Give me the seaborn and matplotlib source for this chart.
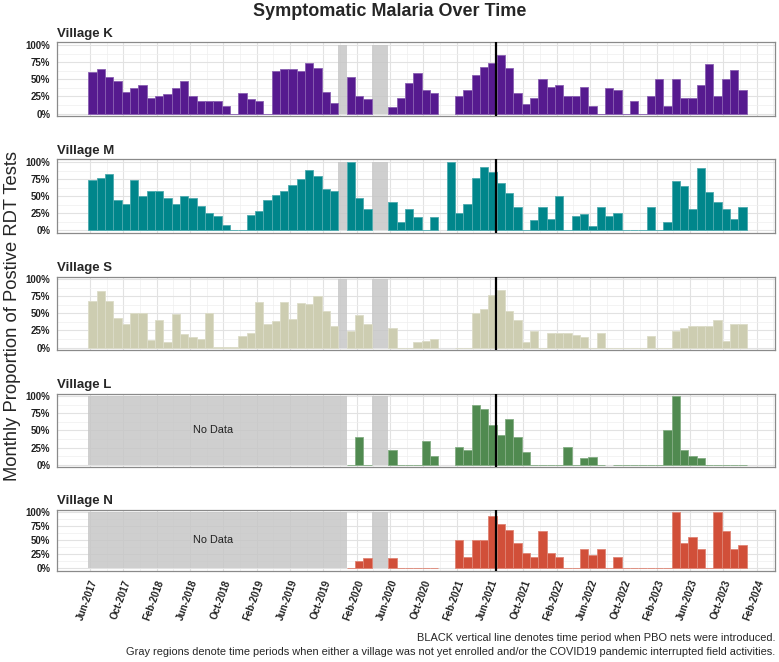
import numpy as np
import pandas as pd
import seaborn as sns
import matplotlib.pyplot as plt
import matplotlib.colors as mcolors
from matplotlib.patches import Rectangle
from matplotlib.ticker import FixedLocator, MultipleLocator

nan = np.nan

# meses con datos (Jun-2017 .. Dic-2023)
meses = pd.date_range('2017-06-01', '2023-12-01', freq='MS')

# proporcion mensual de RDT positivos (%), NaN = sin dato
village_k = [60, 65, 53, 48, 31, 37, 41, 23, 26, 28,
             38, 48, 26, 19, 18, 19, 11, 0, 30, 21,
             18, 0, 62, 65, 65, 62, 74, 67, 32, 16,
             nan, 54, 26, 21, nan, nan, 9, 22, 45, 59,
             34, 30, nan, nan, 26, 34, 56, 68, 74, 85,
             66, 30, 14, 23, 50, 39, 41, 26, 26, 39,
             11, 0, 38, 34, 0, 18, 0, 26, 50, 11,
             50, 23, 23, 41, 72, 26, 50, 63, 34]
village_m = [73, 77, 83, 45, 38, 74, 51, 57, 57, 47,
             39, 51, 48, 36, 25, 21, 8, 1, 1, 22,
             29, 45, 52, 58, 67, 75, 88, 79, 61, 57,
             nan, 100, 48, 31, nan, nan, 41, 12, 31, 19,
             0, 19, nan, 100, 26, 38, 77, 93, 85, 70,
             54, 34, 0, 15, 34, 17, 50, 0, 21, 24,
             7, 34, 21, 26, 0, 0, 0, 34, 0, 12,
             72, 65, 31, 91, 56, 42, 31, 17, 34]
village_s = [69, 83, 69, 44, 34, 50, 51, 11, 41, 8,
             49, 20, 15, 12, 51, 1, 1, 1, 17, 21,
             67, 34, 39, 67, 42, 65, 64, 76, 54, 32,
             nan, 24, 48, 34, nan, nan, 28, 0, 0, 8,
             9, 12, nan, nan, 0, 0, 51, 56, 77, 84,
             53, 41, 8, 24, 0, 21, 21, 21, 19, 15,
             0, 21, 0, 0, 0, 0, 0, 17, 0, 0,
             24, 28, 32, 31, 32, 41, 10, 34, 34]
village_l = [nan] * 31 + [0, 41, 0, nan, nan, 21, 0, 0, 0,
             34, 13, nan, nan, 26, 21, 87, 82, 58, 44,
             67, 41, 19, 0, 0, 0, 0, 26, 0, 10,
             11, 0, nan, 0, 0, 0, 0, 0, 0, 51,
             100, 22, 12, 9, 0, 0, 0, 0, 0]
village_n = [nan] * 31 + [0, 14, 18, nan, nan, 18, 0, 0, 0,
             0, 0, nan, nan, 51, 21, 51, 51, 93, 79,
             69, 45, 27, 21, 67, 27, 21, 0, 0, 35,
             24, 35, 0, 21, 0, 0, 0, 0, 0, 0,
             100, 45, 56, 35, 0, 100, 67, 35, 41]

villages = ['Village K', 'Village M', 'Village S', 'Village L', 'Village N']
valores = [village_k, village_m, village_s, village_l, village_n]
colores = ['#561a8f', '#00868b', '#cdcdb1', '#508a50', '#d14f39']
sin_datos = [False, False, False, True, True]

tick_labels = ['Jun-2017', 'Oct-2017', 'Feb-2018', 'Jun-2018', 'Oct-2018',
               'Feb-2019', 'Jun-2019', 'Oct-2019', 'Feb-2020', 'Jun-2020',
               'Oct-2020', 'Feb-2021', 'Jun-2021', 'Oct-2021', 'Feb-2022',
               'Jun-2022', 'Oct-2022', 'Feb-2023', 'Jun-2023', 'Oct-2023',
               'Feb-2024']

# meses grises (indice desde Jun-2017): Dic-2019, Abr/May-2020 (COVID19)
meses_grises = [(30, 30), (34, 35)]
linea_pbo = 48.4  # nets PBO, mediados de 2021

sns.set_style('white')
plt.rcParams['font.family'] = ['Liberation Sans', 'DejaVu Sans']

fig = plt.figure(figsize=(7.79, 6.62), dpi=100)

# posiciones de los paneles (fraccion de figura)
izq, ancho = 0.0728, 0.922
paneles = [(0.8243, 0.1118), (0.648, 0.1113), (0.4709, 0.1112),
           (0.2941, 0.1112), (0.1379, 0.0917)]

x = np.arange(len(meses))
ticks_x = [4 * i - 0.3 for i in range(len(tick_labels))]
minor_x = [t + 2 for t in ticks_x]

for k, (nombre, vals, color) in enumerate(zip(villages, valores, colores)):
    ax = fig.add_axes([izq, paneles[k][0], ancho, paneles[k][1]])
    df = pd.DataFrame({'mes': x, 'prop': vals})

    rgb = np.array(mcolors.to_rgb(color))
    borde = tuple(rgb + (1 - rgb) * 0.3)

    # regiones grises
    if sin_datos[k]:
        ax.add_patch(Rectangle((-0.5, 0), 31, 100, facecolor='#c4c4c4',
                               alpha=0.8, edgecolor='none', zorder=2))
        ax.text(14.5, 50, 'No Data', ha='center', va='center', fontsize=7.8,
                color='#222222', zorder=4)
    else:
        a, b = meses_grises[0]
        ax.add_patch(Rectangle((a - 0.5, 0), b - a + 1, 100, facecolor='#c4c4c4',
                               alpha=0.8, edgecolor='none', zorder=2))
    a, b = meses_grises[1]
    ax.add_patch(Rectangle((a - 0.5, 0), b - a + 1, 100, facecolor='#c4c4c4',
                           alpha=0.8, edgecolor='none', zorder=2))

    sns.barplot(data=df, x='mes', y='prop', native_scale=True, color=color,
                saturation=1, width=1, errorbar=None, edgecolor=borde,
                linewidth=0.6, ax=ax, zorder=3)

    ax.axvline(linea_pbo, color='black', lw=1.6, zorder=5)

    ax.set_xlim(-4.3, 81.9)
    ax.set_ylim(-4, 104)
    ax.set_xlabel('')
    ax.set_ylabel('')

    ax.xaxis.set_major_locator(FixedLocator(ticks_x))
    ax.xaxis.set_minor_locator(FixedLocator(minor_x))
    ax.set_yticks([0, 25, 50, 75, 100])
    ax.set_yticklabels(['0%', '25%', '50%', '75%', '100%'], fontsize=7,
                       fontweight='bold', color='#222222')
    ax.yaxis.set_minor_locator(MultipleLocator(12.5))

    ax.grid(which='major', color='#e2e2e2', lw=0.8)
    ax.grid(which='minor', color='#efefef', lw=0.5)
    ax.set_axisbelow(True)

    for s in ax.spines.values():
        s.set_visible(True)
        s.set_color('#8a8a8a')
        s.set_linewidth(0.9)

    ax.tick_params(axis='y', which='major', length=2.5, color='#8a8a8a', pad=2)
    ax.tick_params(axis='both', which='minor', length=0)

    if k == len(villages) - 1:
        ax.set_xticklabels(tick_labels, rotation=70, ha='right', va='top',
                           rotation_mode='anchor', fontsize=7, fontweight='bold',
                           color='#222222')
        ax.tick_params(axis='x', which='major', length=2.5, color='#8a8a8a', pad=3)
    else:
        ax.set_xticklabels([])
        ax.tick_params(axis='x', which='major', length=0)

    ax.set_title(nombre, loc='left', fontsize=9.5, fontweight='bold', pad=4)

fig.text(0.5, 1 - 11 / 662, 'Symptomatic Malaria Over Time', ha='center',
         va='center', fontsize=13, fontweight='bold')
fig.text(0.016, 1 - 316 / 662, 'Monthly Proportion of Postive RDT Tests',
         rotation=90, ha='center', va='center', fontsize=13.2)
fig.text(0.995, 1 - 638 / 662,
         'BLACK vertical line denotes time period when PBO nets were introduced.',
         ha='right', va='center', fontsize=7.9)
fig.text(0.995, 1 - 652 / 662,
         'Gray regions denote time periods when either a village was not yet enrolled '
         'and/or the COVID19 pandemic interrupted field activities.',
         ha='right', va='center', fontsize=7.9)

plt.savefig('out.png', dpi=100)
